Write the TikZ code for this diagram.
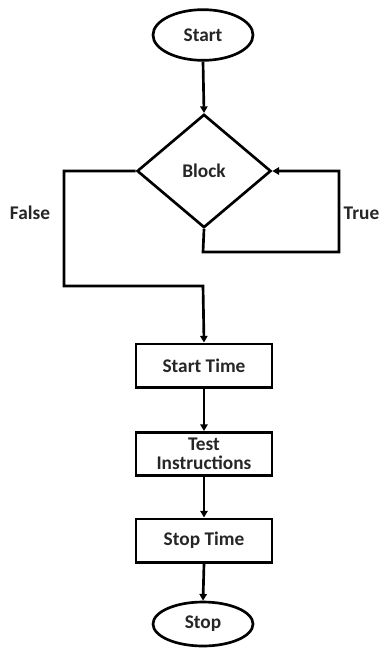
\documentclass[tikz,border=0pt]{standalone}
\usepackage{fontspec}
\setmainfont{Carlito}
\usetikzlibrary{arrows.meta,shapes.geometric}
\begin{document}
\begin{tikzpicture}[x=0.75pt,y=-0.75pt,
  every node/.style={font=\bfseries\fontsize{14.5}{16}\selectfont, text=black!85},
  shp/.style={draw=black, line width=2pt, inner sep=0pt},
  term/.style={shp, ellipse, minimum width=75pt, minimum height=38pt},
  proc/.style={shp, rectangle, minimum width=102pt, minimum height=32.5pt, align=center},
  dec/.style={shp, diamond, minimum width=100.5pt, minimum height=85pt, aspect=1.2},
  conn/.style={line width=2pt, -{Triangle[length=5pt,width=5.5pt]}}]
\useasboundingbox (0,0) rectangle (380,648);
\node[term] (start) at (203,35) {Start};
\node[dec] (block) at (204,171) {Block};
\node[proc] (st) at (204,365.5) {Start Time};
\node[proc, font=\bfseries\fontsize{14.5}{14.5}\selectfont] (ti) at (204,454) {Test\\Instructions};
\node[proc] (sp) at (204,540.5) {Stop Time};
\node[term, minimum height=33pt] (stop) at (203,624) {Stop};
\coordinate (fl) at (64,171);
\coordinate (fb) at (64,286);
\coordinate (fr) at (203,286);
\coordinate (tb) at (203,252);
\coordinate (tr) at (339,252);
\coordinate (tt) at (339,171);
\node at (30,213) (false) {False};
\node[anchor=east, inner sep=0pt] at (379.5,213) (true) {True};
\draw[conn] (start.south) -- (block.north);
\draw[conn] (block.west) -- (fl) -- (fb) -- (fr) -- (st.north);
\draw[conn] (block.south) -- (tb) -- (tr) -- (tt) -- (block.east);
\draw[conn] (st.south) -- (ti.north);
\draw[conn] (ti.south) -- (sp.north);
\draw[conn] (sp.south) -- (stop.north);
\end{tikzpicture}
\end{document}
